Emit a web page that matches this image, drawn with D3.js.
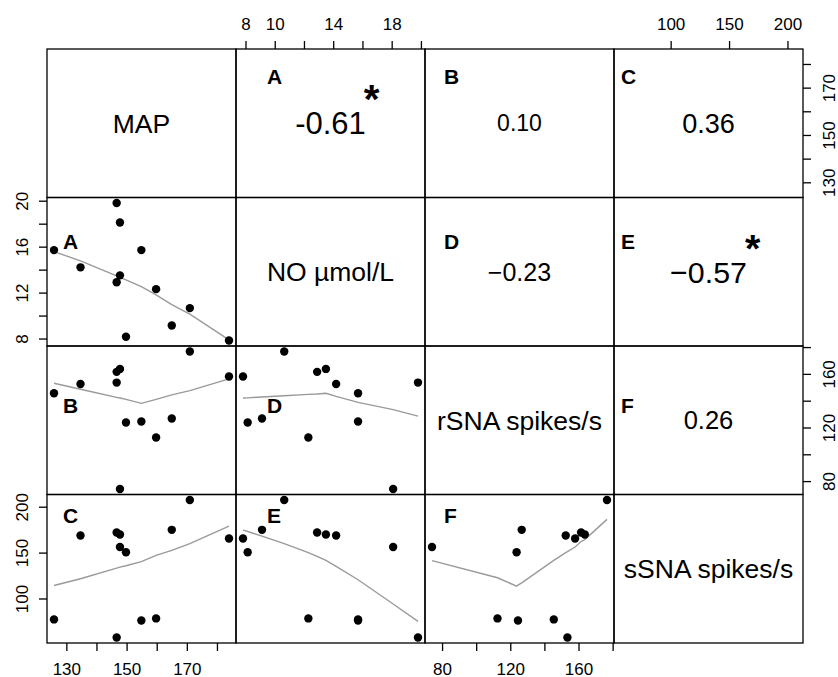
<!DOCTYPE html>
<html>
<head>
<meta charset="utf-8">
<script src="https://cdn.jsdelivr.net/npm/d3@7"></script>
<style>
  body { margin: 0; background: #fff; }
  svg { font-family: "Liberation Sans", Arial, sans-serif; }
</style>
</head>
<body>
<div id="chart"></div>
<script>
// Variables in matrix order and the text on the diagonal
const varNames = ["MAP", "NO", "rSNA", "sSNA"];
const diagLabels = ["MAP", "NO µmol/L", "rSNA spikes/s", "sSNA spikes/s"];

// One value per animal (12)
const MAP  = [125.9, 134.7, 146.7, 146.7, 147.8, 147.8, 149.8, 154.9, 159.8, 165.0, 171.0, 184.0];
const NO   = [15.7, 14.2, 19.8, 12.9, 13.5, 18.1, 8.15, 15.7, 12.3, 9.13, 10.65, 7.83];
const rSNA = [145.5, 152.5, 153.5, 161.5, 163.7, 74.1, 123.7, 124.5, 112.5, 126.7, 176.7, 158.0];
const sSNA = [77.2, 168.6, 57.5, 171.9, 169.7, 156.1, 150.3, 76.1, 78.3, 174.8, 207.3, 165.3];

// Variable pairs (x index, y index), panel letters and correlations
const pairs = [[0, 1], [0, 2], [0, 3], [1, 2], [1, 3], [2, 3]];
const pairLetters = ["A", "B", "C", "D", "E", "F"];
const corrLabels = ["-0.61", "0.10", "0.36", "\u22120.23", "\u22120.57", "0.26"];
const corrValues = [-0.61, 0.10, 0.36, -0.23, -0.57, 0.26];
const corrSignif = [true, false, false, false, true, false];

// Smoother (lowess) value at each animal, one array per pair
const fitMAP_NO    = [15.57, 14.76, 13.45, 13.45, 13.33, 13.33, 13.1, 12.52, 11.8, 10.96, 10.12, 7.89];
const fitMAP_rSNA  = [153.0, 148.5, 142.5, 142.5, 142.0, 142.0, 141.0, 138.0, 141.0, 144.3, 147.5, 156.3];
const fitMAP_sSNA  = [114.1, 121.5, 133.1, 133.1, 134.2, 134.2, 135.7, 140.1, 147.0, 152.5, 159.8, 178.8];
const fitNO_rSNA   = [138.7, 143.2, 128.5, 145.0, 145.5, 133.3, 142.1, 138.7, 144.7, 142.8, 143.7, 142.0];
const fitNO_sSNA   = [120.4, 135.0, 75.0, 146.0, 141.6, 94.0, 173.0, 120.4, 150.0, 167.9, 159.8, 174.5];
const fitrSNA_sSNA = [141.6, 150.0, 151.1, 162.0, 164.2, 141.2, 113.4, 114.5, 122.6, 117.1, 186.2, 156.1];

// Axis ticks and which of them carry a label
const tickValues  = [[130, 140, 150, 160, 170, 180], [8, 10, 12, 14, 16, 18, 20], [80, 100, 120, 140, 160, 180], [100, 150, 200]];
const tickLabelsX = [[130, 150, 170], [8, 10, 14, 18], [80, 120, 160], [100, 150, 200]];
const tickLabelsY = [[130, 150, 170], [8, 12, 16, 20], [80, 120, 160], [100, 150, 200]];

const values = [MAP, NO, rSNA, sSNA];
const fits = [fitMAP_NO, fitMAP_rSNA, fitMAP_sSNA, fitNO_rSNA, fitNO_sSNA, fitrSNA_sSNA];

// Layout
const W = 838, H = 677;
const gridLeft = 47, gridTop = 49, cw = 189, ch = 148.5;
const n = varNames.length;
const colX = (j) => gridLeft + j * cw;
const rowY = (i) => gridTop + i * ch;
// where the panel letters sit inside each column / row
const letterDx = [16, 31, 19, 7];
const letterDy = [34.5, 51.5, 67, 28.5];

const svg = d3.select("#chart").append("svg")
    .attr("width", W)
    .attr("height", H);

// R-style range: data extent padded by 4% on each side
const padded = (arr) => {
    const [a, b] = d3.extent(arr);
    const p = (b - a) * 0.04;
    return [a - p, b + p];
};
const xScales = values.map((v, k) => d3.scaleLinear().domain(padded(v)).range([colX(k), colX(k) + cw]));
const yScales = values.map((v, k) => d3.scaleLinear().domain(padded(v)).range([rowY(k) + ch, rowY(k)]));

const corrSize = d3.scaleLinear().domain([0.10, 0.61]).range([23, 31]);

const panels = svg.append("g");

for (let i = 0; i < n; i++) {
    for (let j = 0; j < n; j++) {
        const g = panels.append("g");
        const cx = colX(j) + cw / 2, cy = rowY(i) + ch / 2;

        if (i === j) {
            g.append("text")
                .attr("x", cx)
                .attr("y", cy + 0.36 * 26.5)
                .attr("text-anchor", "middle")
                .attr("font-size", 26.5)
                .text(diagLabels[i]);
        } else if (i > j) {
            // lower panel: x = var j, y = var i
            const p = pairs.findIndex((q) => q[0] === j && q[1] === i);
            const idx = d3.range(values[j].length);
            const order = idx.slice().sort((a, b) => values[j][a] - values[j][b]);

            g.append("path")
                .datum(order)
                .attr("fill", "none")
                .attr("stroke", "#9a9a9a")
                .attr("stroke-width", 1.4)
                .attr("d", d3.line()
                    .x((k) => xScales[j](values[j][k]))
                    .y((k) => yScales[i](fits[p][k])));

            g.selectAll("circle")
                .data(idx)
                .join("circle")
                .attr("cx", (k) => xScales[j](values[j][k]))
                .attr("cy", (k) => yScales[i](values[i][k]))
                .attr("r", 4.2)
                .attr("fill", "#000");

            g.append("text")
                .attr("x", colX(j) + letterDx[j])
                .attr("y", rowY(i) + letterDy[i])
                .attr("font-size", 21)
                .attr("font-weight", "bold")
                .text(pairLetters[p]);
        } else {
            // upper panel: correlation
            const p = pairs.findIndex((q) => q[0] === i && q[1] === j);
            const fs = corrSize(Math.abs(corrValues[p]));
            const base = cy + 0.358 * fs;
            const t = g.append("text")
                .attr("x", cx)
                .attr("y", base)
                .attr("text-anchor", "middle")
                .attr("font-size", fs)
                .text(corrLabels[p]);

            if (corrSignif[p]) {
                const bb = t.node().getBBox();
                g.append("text")
                    .attr("x", bb.x + bb.width - 2)
                    .attr("y", base - 0.716 * fs + 1)
                    .attr("font-size", fs * 1.3)
                    .attr("font-weight", "bold")
                    .text("*");
            }

            g.append("text")
                .attr("x", colX(j) + letterDx[j])
                .attr("y", rowY(i) + letterDy[i])
                .attr("font-size", 21)
                .attr("font-weight", "bold")
                .text(pairLetters[p]);
        }

        g.append("rect")
            .attr("x", colX(j))
            .attr("y", rowY(i))
            .attr("width", cw)
            .attr("height", ch)
            .attr("fill", "none")
            .attr("stroke", "#000")
            .attr("stroke-width", 1.3);
    }
}

// Axes alternate sides like R's pairs(): bottom/top for columns, right/left for rows
function styleAxis(sel) {
    sel.attr("font-size", 17).attr("font-family", null);
    sel.select(".domain").remove();
    sel.selectAll(".tick line").attr("stroke-width", 1.3);
}

for (let k = 0; k < n; k++) {
    const bottom = k % 2 === 0;
    const xAxis = (bottom ? d3.axisBottom(xScales[k]) : d3.axisTop(xScales[k]))
        .tickValues(tickValues[k])
        .tickSize(8)
        .tickFormat((d) => tickLabelsX[k].includes(d) ? d : "");
    svg.append("g")
        .attr("transform", `translate(0,${bottom ? gridTop + n * ch : gridTop})`)
        .call(xAxis)
        .call(styleAxis)
        .selectAll("text")
        .attr("y", bottom ? 31.5 : -19.5)
        .attr("dy", 0);

    const right = k % 2 === 0;
    const yAxis = (right ? d3.axisRight(yScales[k]) : d3.axisLeft(yScales[k]))
        .tickValues(tickValues[k])
        .tickSize(8)
        .tickFormat((d) => tickLabelsY[k].includes(d) ? d : "");
    svg.append("g")
        .attr("transform", `translate(${right ? gridLeft + n * cw : gridLeft},0)`)
        .call(yAxis)
        .call(styleAxis)
        .selectAll("text")
        .attr("transform", "rotate(-90)")
        .attr("x", 0)
        .attr("y", right ? 31.5 : -19)
        .attr("dy", 0)
        .attr("text-anchor", "middle");
}
</script>
</body>
</html>
